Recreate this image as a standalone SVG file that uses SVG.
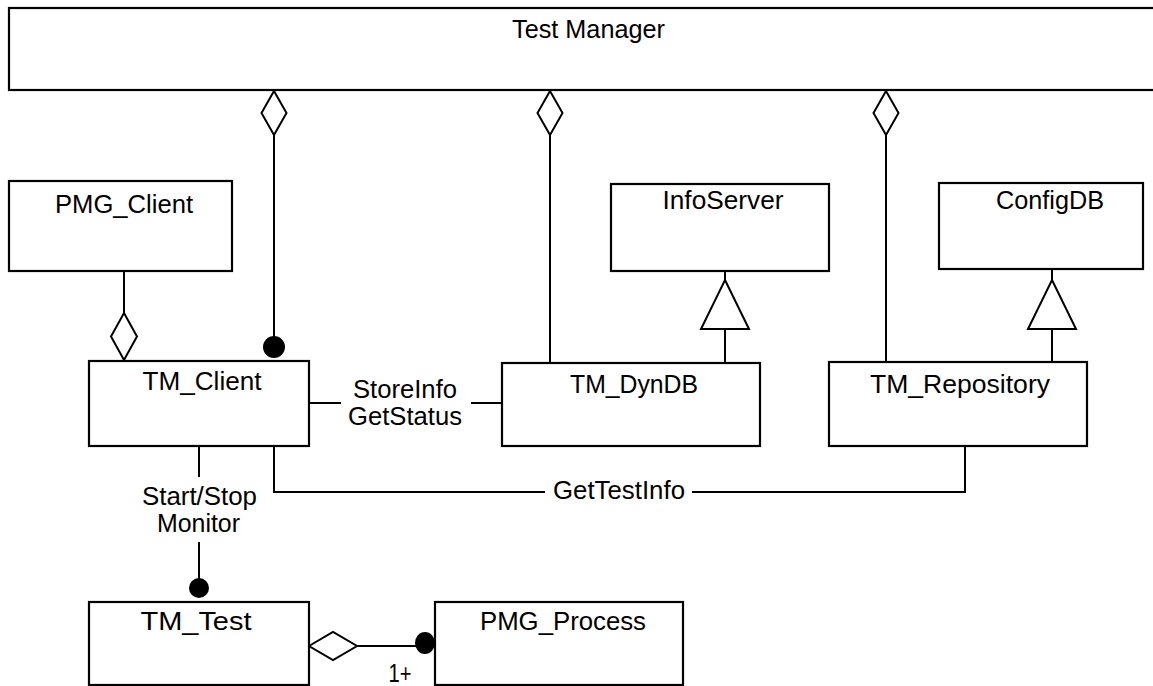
<svg xmlns="http://www.w3.org/2000/svg" width="1153" height="686" viewBox="0 0 1153 686">
  <style>
    .box { fill: #fff; stroke: #000; stroke-width: 2.2; }
    .lbl { font-family: "Liberation Sans", Arial, sans-serif; font-size: 25px; fill: #000; text-anchor: middle; }
    .ln { fill: none; stroke: #000; stroke-width: 2; }
    .agg { fill: #fff; stroke: #000; stroke-width: 2; stroke-linejoin: miter; }
    .dot { fill: #000; stroke: none; }
  </style>
  <rect width="1153" height="686" fill="#fff"/>

  <!-- connectors -->
  <g id="connectors">
    <!-- Test Manager aggregations -->
    <line class="ln" x1="274" y1="135" x2="274" y2="340"/>
    <polygon class="agg" points="274,91 286.5,113 274,135 261.5,113"/>
    <circle class="dot" cx="274" cy="347" r="11"/>

    <line class="ln" x1="550" y1="135" x2="550" y2="363"/>
    <polygon class="agg" points="550,91 562.5,113 550,135 537.5,113"/>

    <line class="ln" x1="886" y1="135" x2="886" y2="362"/>
    <polygon class="agg" points="886,91 898.5,113 886,135 873.5,113"/>

    <!-- PMG_Client aggregates TM_Client -->
    <line class="ln" x1="124" y1="271" x2="124" y2="313"/>
    <polygon class="agg" points="124,313 137,336.5 124,360 111,336.5"/>

    <!-- generalisation: TM_DynDB to InfoServer -->
    <line class="ln" x1="725" y1="271" x2="725" y2="280"/>
    <polygon class="agg" points="725,280 749,329 701,329"/>
    <line class="ln" x1="725" y1="329" x2="725" y2="363"/>

    <!-- generalisation: TM_Repository to ConfigDB -->
    <line class="ln" x1="1052" y1="269" x2="1052" y2="280"/>
    <polygon class="agg" points="1052,280 1076,329 1028,329"/>
    <line class="ln" x1="1052" y1="329" x2="1052" y2="362"/>

    <!-- TM_Client to TM_DynDB -->
    <line class="ln" x1="309" y1="403" x2="341" y2="403"/>
    <line class="ln" x1="471" y1="403" x2="502" y2="403"/>
    <text class="lbl" x="405" y="398" textLength="104" lengthAdjust="spacingAndGlyphs">StoreInfo</text>
    <text class="lbl" x="405" y="425" textLength="114" lengthAdjust="spacingAndGlyphs">GetStatus</text>

    <!-- TM_Client to TM_Repository -->
    <polyline class="ln" points="274,446 274,492 545,492"/>
    <polyline class="ln" points="692,492 965,492 965,446"/>
    <text class="lbl" x="619" y="499" textLength="132" lengthAdjust="spacingAndGlyphs">GetTestInfo</text>

    <!-- TM_Client to TM_Test -->
    <line class="ln" x1="199" y1="446" x2="199" y2="477"/>
    <line class="ln" x1="199" y1="542" x2="199" y2="580"/>
    <circle class="dot" cx="199" cy="588" r="10"/>
    <text class="lbl" x="199.5" y="505" textLength="115" lengthAdjust="spacingAndGlyphs">Start/Stop</text>
    <text class="lbl" x="198.5" y="532" textLength="83" lengthAdjust="spacingAndGlyphs">Monitor</text>

    <!-- TM_Test aggregates PMG_Process -->
    <line class="ln" x1="357" y1="646" x2="420" y2="646"/>
    <polygon class="agg" points="309,646 333,632 357,646 333,660"/>
    <ellipse class="dot" cx="425" cy="643" rx="10" ry="11"/>
    <text class="lbl" x="400" y="682" textLength="23" lengthAdjust="spacingAndGlyphs">1+</text>
  </g>

  <g id="test-manager">
    <rect class="box" x="9" y="8" width="1160" height="82" stroke-width="3"/>
    <text class="lbl" x="588.5" y="38" textLength="153" lengthAdjust="spacingAndGlyphs">Test Manager</text>
  </g>

  <g id="pmg-client">
    <rect class="box" x="9" y="181" width="223" height="90"/>
    <text class="lbl" x="124" y="213" textLength="138" lengthAdjust="spacingAndGlyphs">PMG_Client</text>
  </g>

  <g id="info-server">
    <rect class="box" x="611" y="184" width="218" height="87"/>
    <text class="lbl" x="723" y="209" textLength="121" lengthAdjust="spacingAndGlyphs">InfoServer</text>
  </g>

  <g id="config-db">
    <rect class="box" x="939" y="183" width="204" height="86"/>
    <text class="lbl" x="1050" y="209" textLength="108" lengthAdjust="spacingAndGlyphs">ConfigDB</text>
  </g>

  <g id="tm-client">
    <rect class="box" x="89" y="361" width="220" height="85"/>
    <text class="lbl" x="202" y="390" textLength="119" lengthAdjust="spacingAndGlyphs">TM_Client</text>
  </g>

  <g id="tm-dyndb">
    <rect class="box" x="502" y="363" width="258" height="83"/>
    <text class="lbl" x="634" y="393" textLength="128" lengthAdjust="spacingAndGlyphs">TM_DynDB</text>
  </g>

  <g id="tm-repository">
    <rect class="box" x="829" y="362" width="258" height="84"/>
    <text class="lbl" x="960" y="393" textLength="180" lengthAdjust="spacingAndGlyphs">TM_Repository</text>
  </g>

  <g id="tm-test">
    <rect class="box" x="89" y="602" width="220" height="83"/>
    <text class="lbl" x="196" y="630" textLength="111" lengthAdjust="spacingAndGlyphs">TM_Test</text>
  </g>

  <g id="pmg-process">
    <rect class="box" x="435" y="602" width="248" height="83"/>
    <text class="lbl" x="563" y="630" textLength="166" lengthAdjust="spacingAndGlyphs">PMG_Process</text>
  </g>
</svg>
